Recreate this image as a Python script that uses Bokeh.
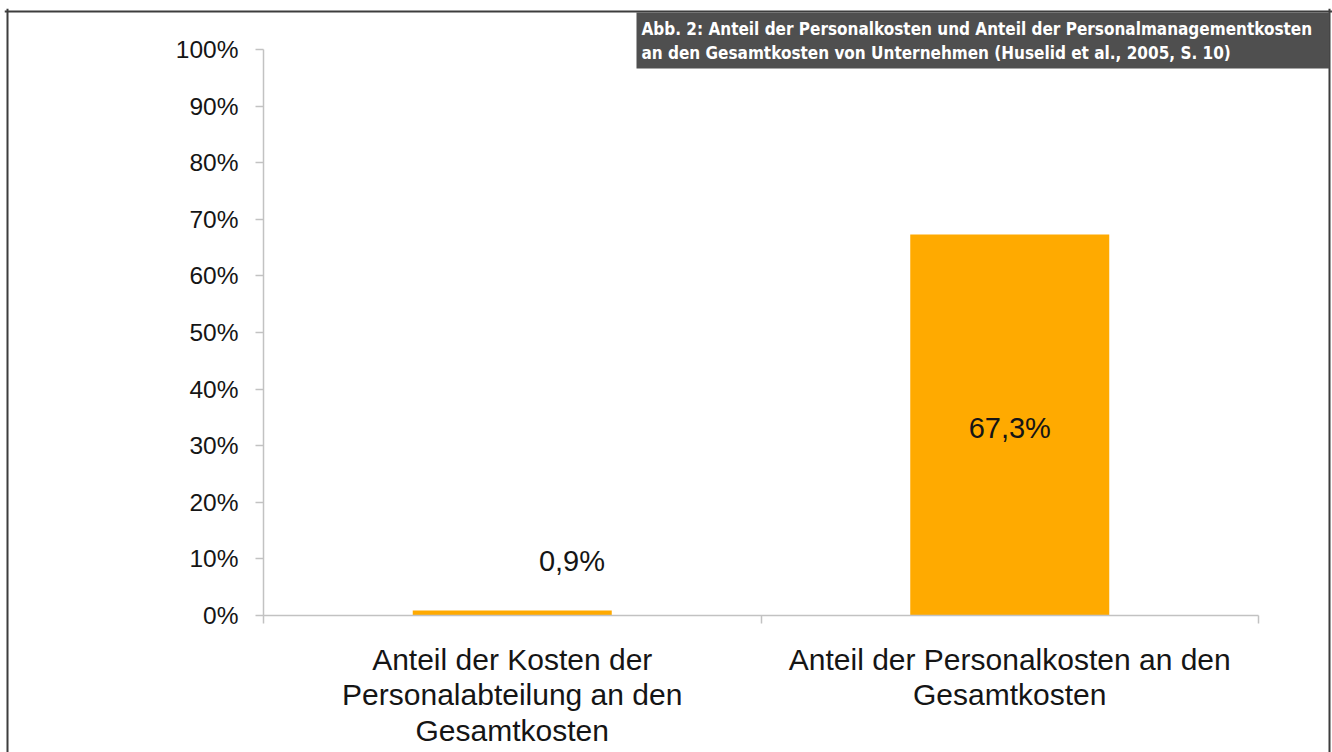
from bokeh.plotting import figure
from bokeh.models import Range1d, FixedTicker, BoxAnnotation, Label, ColumnDataSource, Span
from bokeh.core.properties import value
from bokeh.embed import file_html
from bokeh.resources import INLINE

# ---- data ----
categories = ["Anteil der Kosten der\nPersonalabteilung an den\nGesamtkosten",
              "Anteil der Personalkosten an den\nGesamtkosten"]
values = [0.9, 67.3]
value_labels = ["0,9%", "67,3%"]
y_ticks = [0, 10, 20, 30, 40, 50, 60, 70, 80, 90, 100]
y_tick_labels = ["0%", "10%", "20%", "30%", "40%", "50%", "60%", "70%", "80%", "90%", "100%"]
title_text = ("Abb. 2: Anteil der Personalkosten und Anteil der Personalmanagementkosten\n"
              "an den Gesamtkosten von Unternehmen (Huselid et al., 2005, S. 10)")

FONT = "Liberation Sans"
NARROW = "'Liberation Sans Narrow', 'DejaVu Sans Condensed', 'Liberation Sans', sans-serif"
AXIS_COLOR = "#c2c2c2"
TEXT_COLOR = "#151515"
BAR_COLOR = "#ffaa00"
BORDER_COLOR = "#3d3d3d"

W, H = 1332, 752
# frame = (almost) whole page; the chart's axes sit inside it at fixed locations
FL, FT, FR, FB = 4, 8, 1332, 752           # frame edges in pixels
BL, BT, BR = 7, 11, 1329                    # page border lines (pixels)
AX0, AX1 = 263, 1258                        # x pixels of x=0 and x=n
AY0, AY1 = 615, 49                          # y pixels of 0% and 100%
n = len(categories)
ux = (AX1 - AX0) / n
uy = (AY0 - AY1) / 100.0

def dx(px):
    return (px - AX0) / ux

def dy(py):
    return (AY0 - py) / uy

p = figure(width=W, height=H, output_backend="svg", toolbar_location=None,
           x_range=Range1d(dx(FL), dx(FR)), y_range=Range1d(dy(FB), dy(FT)),
           min_border_left=FL, min_border_right=W - FR, min_border_top=FT, min_border_bottom=H - FB)
p.title.visible = False
p.background_fill_color = "white"
p.border_fill_color = "white"
p.outline_line_color = None
p.xgrid.visible = False
p.ygrid.visible = False

xs = [i + 0.5 for i in range(n)]
src = ColumnDataSource(dict(
    x=xs, top=values, lab=value_labels,
    lx=[x if v > 20 else x + 0.12 for x, v in zip(xs, values)],
    ly=[v / 2 - 0.6 if v > 20 else v + 8.8 for v in values]))
p.vbar(x="x", top="top", bottom=0, width=0.4, source=src,
       fill_color=BAR_COLOR, line_color=None)
p.text(x="lx", y="ly", text="lab", source=src, text_align="center", text_baseline="middle",
       text_font=value(FONT), text_font_size="29px", text_color=TEXT_COLOR)

# y axis
ya = p.yaxis[0]
ya.fixed_location = 0
ya.bounds = (0, 100)
ya.ticker = FixedTicker(ticks=y_ticks)
ya.major_label_overrides = {t: l for t, l in zip(y_ticks, y_tick_labels)}
ya.axis_line_color = AXIS_COLOR
ya.axis_line_width = 1.5
ya.major_tick_line_color = AXIS_COLOR
ya.major_tick_line_width = 1.5
ya.major_tick_out = 8
ya.major_tick_in = 0
ya.minor_tick_line_color = None
ya.major_label_standoff = 17
ya.major_label_text_font = FONT
ya.major_label_text_font_size = "24.5px"
ya.major_label_text_color = TEXT_COLOR

# x axis
xa = p.xaxis[0]
xa.fixed_location = 0
xa.bounds = (0, n)
xa.ticker = FixedTicker(ticks=xs, minor_ticks=list(range(n + 1)))
xa.major_label_overrides = {x: c for x, c in zip(xs, categories)}
xa.axis_line_color = AXIS_COLOR
xa.axis_line_width = 1.5
xa.major_tick_line_color = None
xa.major_tick_out = 0
xa.major_tick_in = 0
xa.minor_tick_line_color = AXIS_COLOR
xa.minor_tick_line_width = 1.5
xa.minor_tick_out = 8
xa.minor_tick_in = 0
xa.major_label_standoff = 19
xa.major_label_text_font = FONT
xa.major_label_text_font_size = "30px"
xa.major_label_text_color = TEXT_COLOR
xa.major_label_text_line_height = 1.09

# page border (left, top, right; no bottom edge visible)
p.add_layout(Span(location=dx(BL), dimension="height", line_color=BORDER_COLOR, line_width=2))
p.add_layout(Span(location=dx(BR), dimension="height", line_color=BORDER_COLOR, line_width=2))
p.add_layout(Span(location=dy(BT), dimension="width", line_color=BORDER_COLOR, line_width=2))

# caption box
p.add_layout(BoxAnnotation(left=dx(636), right=dx(BR), top=dy(12), bottom=dy(68),
                           fill_color="#4f4f4f", fill_alpha=1, line_color=None, level="overlay"))
p.add_layout(Label(x=dx(641), y=dy(18), text=title_text, text_align="left", text_baseline="top",
                   text_font=NARROW, text_font_style="bold", text_font_size="17px",
                   text_color="white", text_line_height=1.2, level="overlay"))

open("out.html", "w").write(file_html(p, INLINE))
